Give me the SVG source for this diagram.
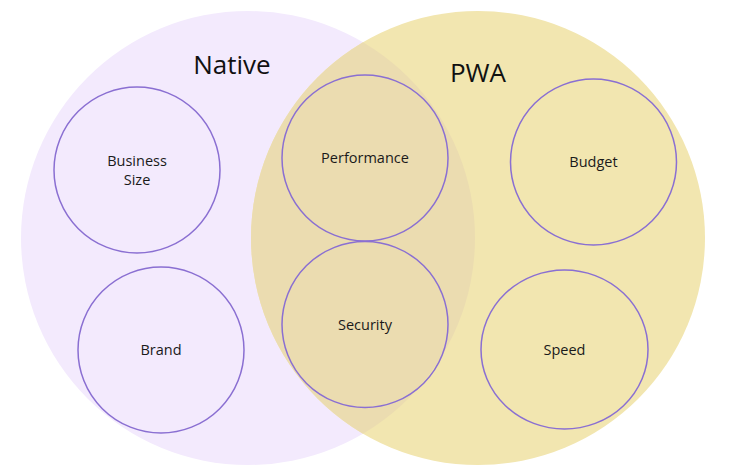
<svg xmlns="http://www.w3.org/2000/svg" width="730" height="472" viewBox="0 0 730 472">
<style>
.set{stroke:none}
.item{fill:none;stroke:#8a6fd2;stroke-width:1.5}
.lbl{font-family:"Open Sans","Noto Sans","Liberation Sans",sans-serif;font-size:14.5px;fill:#1a1a1a;text-anchor:middle}
.title{font-family:"Open Sans","Noto Sans","Liberation Sans",sans-serif;font-size:26px;fill:#111;text-anchor:middle}
</style>
<defs>
<clipPath id="clipNative"><circle cx="248" cy="238" r="227"/></clipPath>
</defs>
<rect width="730" height="472" fill="#ffffff"/>
<g id="native-set">
<circle class="set" cx="248" cy="238" r="227" fill="#f3eafd"/>
</g>
<g id="pwa-set">
<circle class="set" cx="478" cy="238" r="227" fill="#f2e6b0"/>
<circle class="set" cx="478" cy="238" r="227" fill="#ebdcb0" clip-path="url(#clipNative)"/>
</g>
<g id="native-title"><text class="title" x="232" y="74">Native</text></g>
<g id="pwa-title"><text class="title" x="478" y="82">PWA</text></g>
<g id="business-size">
<circle class="item" cx="137" cy="170" r="83"/>
<text class="lbl" x="137" y="166">Business</text>
<text class="lbl" x="137" y="185">Size</text>
</g>
<g id="brand">
<circle class="item" cx="161" cy="350" r="83"/>
<text class="lbl" x="161" y="355">Brand</text>
</g>
<g id="performance">
<circle class="item" cx="365" cy="158" r="83"/>
<text class="lbl" x="365" y="163">Performance</text>
</g>
<g id="security">
<circle class="item" cx="365" cy="324.5" r="83"/>
<text class="lbl" x="365" y="330">Security</text>
</g>
<g id="budget">
<circle class="item" cx="593.5" cy="162" r="83"/>
<text class="lbl" x="593.5" y="167">Budget</text>
</g>
<g id="speed">
<ellipse class="item" cx="564.5" cy="349.5" rx="83.5" ry="79.5"/>
<text class="lbl" x="564.5" y="355">Speed</text>
</g>
<g id="connectors"></g>
</svg>
